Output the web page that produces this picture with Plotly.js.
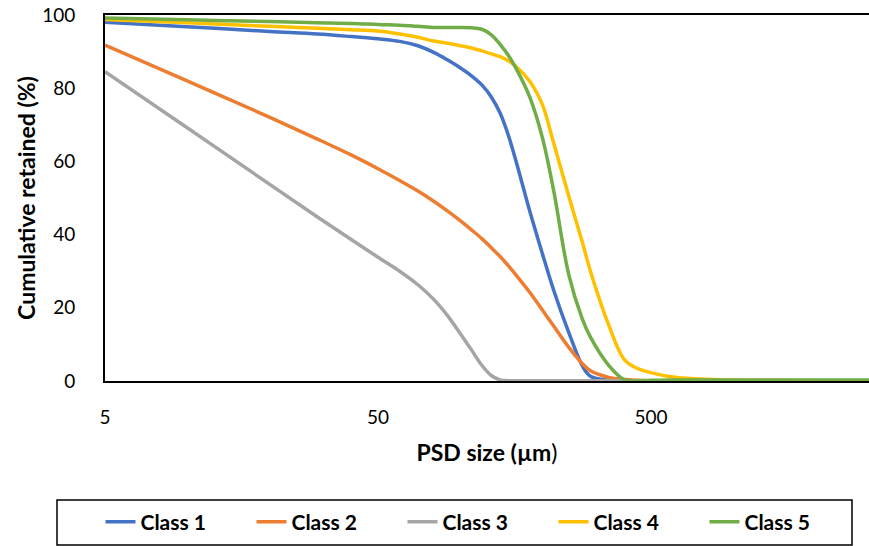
<!DOCTYPE html>
<html>
<head>
<meta charset="utf-8">
<script src="https://cdn.plot.ly/plotly-3.0.1.min.js"></script>
<style>html,body{margin:0;padding:0;background:#fff;}#chart{width:869px;height:546px;}</style>
</head>
<body>
<div id="chart"></div>
<script>
const sizes = [5, 10, 20, 30, 40, 50, 60, 70, 80, 90, 100, 110, 120, 130, 140, 150, 160, 180, 200, 220, 250, 280, 300, 350, 400, 450, 500, 600, 700, 800, 1000, 1500, 2000, 3144];
const class1 = [98.0, 96.8, 95.5, 94.8, 94.1, 93.5, 92.8, 91.6, 89.8, 87.7, 85.6, 83.4, 80.9, 77.6, 73.2, 67.2, 60.2, 46.3, 34.8, 24.8, 13.2, 4.2, 1.3, 0.2, 0.1, 0.1, 0.1, 0.1, 0.1, 0.1, 0.1, 0.1, 0.1, 0.1];
const class2 = [91.8, 82.0, 72.1, 66.1, 61.7, 58.0, 54.8, 51.9, 49.1, 46.4, 43.8, 41.3, 38.9, 36.4, 34.0, 31.5, 29.0, 24.2, 19.4, 15.0, 9.2, 4.8, 2.8, 1.0, 0.4, 0.2, 0.1, 0.1, 0.1, 0.1, 0.1, 0.1, 0.1, 0.1];
const class3 = [84.5, 69.2, 53.8, 44.8, 38.6, 33.8, 30.0, 26.3, 22.3, 17.8, 13.0, 8.5, 4.3, 1.5, 0.3, 0.1, 0.1, 0.1, 0.1, 0.1, 0.1, 0.1, 0.1, 0.1, 0.1, 0.1, 0.1, 0.1, 0.1, 0.1, 0.1, 0.1, 0.1, 0.1];
const class4 = [98.8, 97.9, 96.9, 96.4, 96.0, 95.6, 94.8, 93.9, 92.9, 92.3, 91.6, 91.0, 90.2, 89.4, 88.6, 87.5, 86.0, 81.8, 75.5, 65.0, 50.5, 38.0, 30.0, 15.3, 5.8, 3.3, 2.3, 1.1, 0.7, 0.5, 0.3, 0.2, 0.1, 0.1];
const class5 = [99.2, 98.7, 98.2, 97.9, 97.7, 97.4, 97.2, 96.9, 96.6, 96.6, 96.6, 96.5, 96.1, 94.6, 92.0, 89.0, 85.5, 77.5, 66.5, 52.0, 29.0, 17.0, 12.0, 4.3, 0.3, 0.0, 0.2, 0.3, 0.3, 0.3, 0.3, 0.3, 0.3, 0.3];
const seriesNames = ["Class 1", "Class 2", "Class 3", "Class 4", "Class 5"];
const seriesData = [class1, class2, class3, class4, class5];
const colors = ["#4472C4", "#ED7D31", "#A5A5A5", "#FFC000", "#70AD47"];
const xTicks = [5, 50, 500];
const yTicks = [0, 20, 40, 60, 80, 100];

const FONT = "Lato, 'Open Sans', sans-serif";
const traces = seriesNames.map((n, i) => ({
  x: sizes, y: seriesData[i], name: n, type: "scatter", mode: "lines",
  line: {color: colors[i], width: 3.5, shape: "spline", smoothing: 1.0}
}));

// plot area: x 105..869, y 15..381
const W = 869, H = 546;
const L = 105, R = 869, T = 15, B = 381;
const pw = R - L, ph = B - T;
const layout = {
  width: W, height: H,
  margin: {l: L, r: W - R, t: T, b: H - B, pad: 0},
  paper_bgcolor: "#fff", plot_bgcolor: "#fff",
  font: {family: FONT, color: "#000", size: 19},
  showlegend: true,
  xaxis: {
    type: "log", range: [Math.log10(5), Math.log10(3144)],
    tickvals: xTicks, ticktext: xTicks.map(String),
    showgrid: false, zeroline: false, ticks: "", automargin: false,
    showline: true, linecolor: "#000", linewidth: 2, mirror: true,
    ticklabelstandoff: 18,
    tickfont: {family: FONT, size: 19, color: "#000"},
    title: {text: "<b>PSD size (µm</b>)", font: {family: FONT, size: 23, color: "#000"}, standoff: 18}
  },
  yaxis: {
    range: [0, 100], tickvals: yTicks,
    showgrid: false, zeroline: false, ticks: "", automargin: false,
    showline: true, linecolor: "#000", linewidth: 2,
    ticklabelstandoff: 24,
    tickfont: {family: FONT, size: 19, color: "#000"},
    title: {text: "<b>Cumulative retained (%)</b>", font: {family: FONT, size: 23, color: "#000"}, standoff: 0}
  },
  legend: {
    orientation: "h", xref: "container", yref: "container",
    x: 478 / W, xanchor: "center",
    y: 1 - 522 / H, yanchor: "middle",
    font: {family: FONT, size: 21, color: "#000", weight: "bold"},
    borderwidth: 0, bgcolor: "rgba(0,0,0,0)",
    entrywidth: 106, entrywidthmode: "pixels"
  },
  shapes: [{
    type: "rect", xref: "paper", yref: "paper",
    x0: (57 - L) / pw, x1: (852 - L) / pw,
    y0: (B - 545) / ph, y1: (B - 500) / ph,
    line: {color: "#000", width: 1.5}, fillcolor: "rgba(0,0,0,0)"
  }]
};
Plotly.newPlot("chart", traces, layout, {displayModeBar: false, staticPlot: true});
</script>
</body>
</html>
